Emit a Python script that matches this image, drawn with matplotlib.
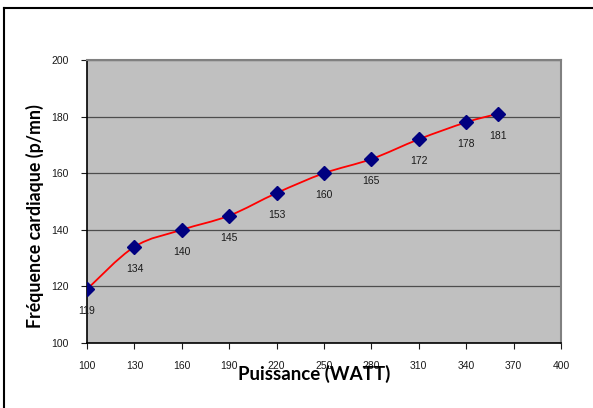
import numpy as np
import matplotlib
matplotlib.use("Agg")
import matplotlib.pyplot as plt
from matplotlib.path import Path
from matplotlib.patches import PathPatch
from matplotlib.lines import Line2D

puissance = [100, 130, 160, 190, 220, 250, 280, 310, 340, 360]
frequence = [119, 134, 140, 145, 153, 160, 165, 172, 178, 181]
x_ticks = [100, 130, 160, 190, 220, 250, 280, 310, 340, 370, 400]
y_ticks = [100, 120, 140, 160, 180, 200]

plt.rcParams['font.family'] = ['Liberation Sans', 'DejaVu Sans']

fig = plt.figure(figsize=(5.93, 4.08), dpi=100)
ax = fig.add_axes([0.1467, 0.1593, 0.7993, 0.6936])
ax.set_facecolor('#c0c0c0')

# smoothed line (Catmull-Rom style bezier through the points)
pts = np.column_stack([puissance, frequence]).astype(float)
verts = [pts[0]]
codes = [Path.MOVETO]
n = len(pts)
for i in range(n - 1):
    p0 = pts[max(i - 1, 0)]
    p1 = pts[i]
    p2 = pts[i + 1]
    p3 = pts[min(i + 2, n - 1)]
    verts += [p1 + (p2 - p0) / 6, p2 - (p3 - p1) / 6, p2]
    codes += [Path.CURVE4] * 3
ax.add_patch(PathPatch(Path(verts, codes), facecolor='none', edgecolor='#ff0000',
                       lw=1.3, zorder=3))

ax.plot(puissance, frequence, linestyle='none', marker='D', markersize=7.5,
        color='#000080', zorder=4)

for x, y in zip(puissance, frequence):
    ax.annotate(str(y), (x, y), xytext=(0, -16), textcoords='offset points',
                ha='center', va='center', fontsize=7.5, color='#1a1a1a', zorder=5)

ax.set_xlim(100, 400)
ax.set_ylim(100, 200)
ax.set_xticks(x_ticks)
ax.set_yticks(y_ticks)
ax.tick_params(labelsize=7.5, length=4, width=0.8, colors='#1a1a1a', direction='out')
ax.tick_params(axis='x', pad=9)
ax.tick_params(axis='y', pad=9)

ax.grid(axis='y', color='#4d4d4d', lw=0.9)
ax.set_axisbelow(True)
for s in ['top', 'right']:
    ax.spines[s].set_color('#808080')
    ax.spines[s].set_linewidth(1.5)
for s in ['left', 'bottom']:
    ax.spines[s].set_color('black')
    ax.spines[s].set_linewidth(1.2)

fig.text(0.53, 0.083, 'Puissance (WATT)', ha='center', va='center',
         fontsize=13.5, fontweight='bold', family=['Lato', 'DejaVu Sans'])
fig.text(0.059, 0.47, 'Fréquence cardiaque (p/mn)', ha='center', va='center',
         rotation=90, fontsize=12.8, fontweight='bold', family=['Lato', 'DejaVu Sans'])

# outer frame (left and top edges visible)
fig.add_artist(Line2D([0.0075, 0.0075], [0.0, 0.98], transform=fig.transFigure,
                      color='black', lw=1.5))
fig.add_artist(Line2D([0.0075, 1.0], [0.98, 0.98], transform=fig.transFigure,
                      color='black', lw=1.5))

fig.savefig('out.png', dpi=100)
